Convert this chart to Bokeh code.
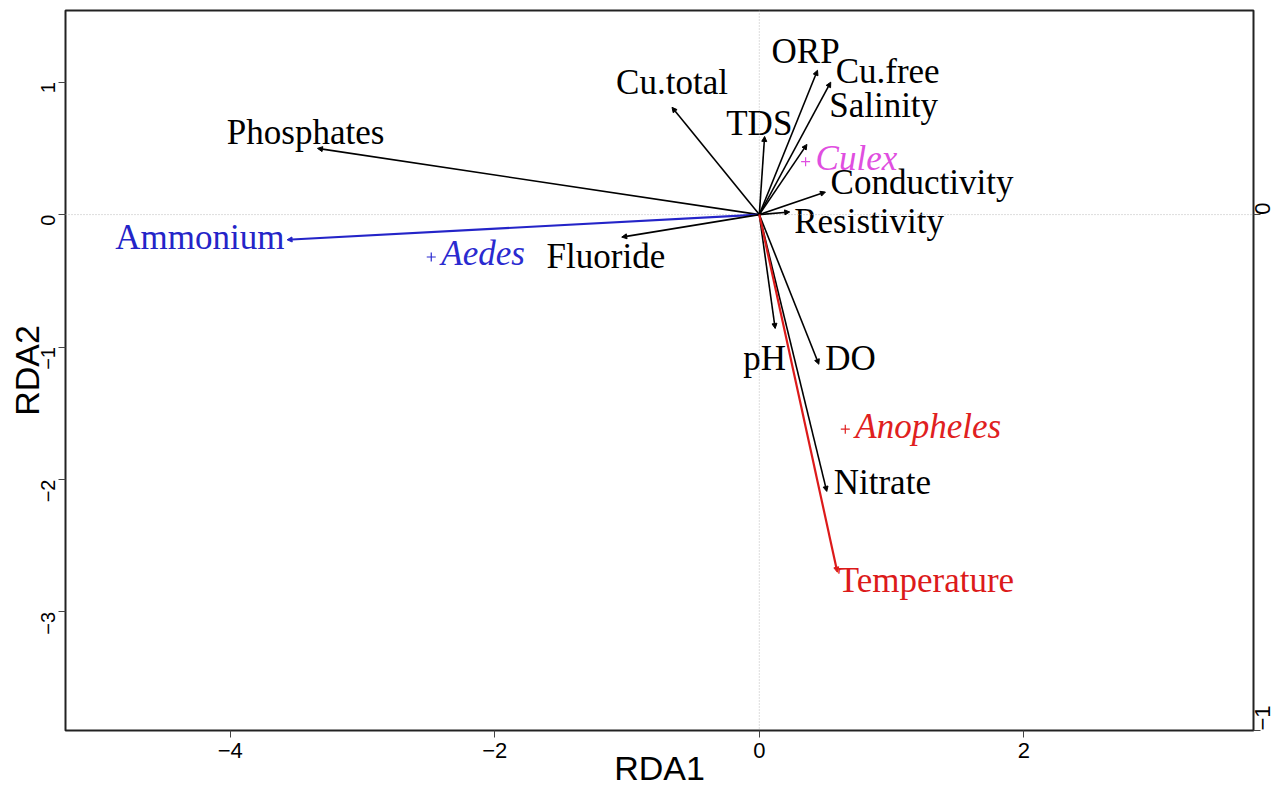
import math
from bokeh.plotting import figure
from bokeh.models import (ColumnDataSource, Arrow, NormalHead, Span, LinearAxis,
                          Range1d, FixedTicker)
from bokeh.core.properties import value
from bokeh.embed import file_html
from bokeh.resources import INLINE

# ---- data ----
env_names = ["Phosphates", "Ammonium", "Fluoride", "Cu.total", "TDS", "ORP", "Cu.free",
             "Salinity", "Conductivity", "Resistivity", "pH", "DO", "Nitrate", "Temperature"]
env_x = [-3.34, -3.57, -1.04, -0.66, 0.04, 0.44, 0.54, 0.36, 0.50, 0.23, 0.12, 0.45, 0.51, 0.59]
env_y = [0.50, -0.19, -0.17, 0.81, 0.59, 1.09, 1.00, 0.53, 0.17, 0.02, -0.86, -1.13, -2.09, -2.70]
lab_x = [-3.43, -4.23, -1.16, -0.66, 0.00, 0.35, 0.97, 0.94, 1.23, 0.83, 0.04, 0.69, 0.93, 1.26]
lab_y = [0.62, -0.17, -0.32, 1.00, 0.69, 1.23, 1.08, 0.82, 0.24, -0.05, -1.09, -1.09, -2.02, -2.76]
env_colors = ["black", "#2424c8", "black", "black", "black", "black", "black",
              "black", "black", "black", "black", "black", "black", "#dc1a1a"]

sp_names = ["Aedes", "Culex", "Anopheles"]
sp_x = [-2.48, 0.35, 0.65]
sp_y = [-0.32, 0.40, -1.62]
sp_colors = ["#2a2ad0", "#e04ee0", "#e02020"]

x_ticks = [-4, -2, 0, 2]
y_ticks = [1, 0, -1, -2, -3]
y2_ticks = [-1, 0]
x_title = "RDA1"
y_title = "RDA2"

p = figure(width=1280, height=789, output_backend="svg", toolbar_location=None,
           x_range=Range1d(-5.245, 3.736), y_range=Range1d(-3.895, 1.541),
           min_border_left=65, min_border_right=25, min_border_top=10, min_border_bottom=56)
p.grid.visible = False
p.outline_line_color = "#222222"
p.outline_line_width = 2
p.background_fill_color = "white"

p.extra_y_ranges = {"sp": Range1d(-1.0, 0.396)}
ax_r = LinearAxis(y_range_name="sp", ticker=FixedTicker(ticks=y2_ticks))
p.add_layout(ax_r, "right")

for ax in [p.xaxis[0], p.yaxis[0], ax_r]:
    ax.major_tick_out = 7
    ax.major_tick_in = 0
    ax.minor_tick_out = 0
    ax.minor_tick_in = 0
    ax.major_label_text_font = "Liberation Sans"
    ax.major_label_text_font_size = "22px"
    ax.major_label_text_color = "black"
    ax.major_label_standoff = 5
    ax.axis_line_color = None
    ax.major_tick_line_color = "#444444"

p.xaxis[0].ticker = FixedTicker(ticks=x_ticks)
p.yaxis[0].ticker = FixedTicker(ticks=y_ticks)
p.yaxis[0].major_label_orientation = math.pi / 2
p.yaxis[0].major_label_standoff = 10
p.yaxis[0].major_label_text_font_size = "20px"
ax_r.major_label_orientation = math.pi / 2
ax_r.major_label_standoff = 2

p.xaxis[0].axis_label = x_title
p.yaxis[0].axis_label = y_title
for ax in [p.xaxis[0], p.yaxis[0]]:
    ax.axis_label_text_font = "Liberation Sans"
    ax.axis_label_text_font_size = "34px"
    ax.axis_label_text_font_style = "normal"
    ax.axis_label_text_color = "black"
p.xaxis[0].axis_label_standoff = -12
p.yaxis[0].axis_label_standoff = -14

p.add_layout(Span(location=0, dimension="width", line_color="#bbbbbb", line_dash="1 2", line_width=1))
p.add_layout(Span(location=0, dimension="height", line_color="#bbbbbb", line_dash="1 2", line_width=1))

# arrows
for i in range(len(env_names)):
    src = ColumnDataSource(dict(x0=[0], y0=[0], x1=[env_x[i]], y1=[env_y[i]]))
    lw = 1.6 if env_colors[i] == "black" else 2.2
    p.add_layout(Arrow(source=src, x_start="x0", y_start="y0", x_end="x1", y_end="y1",
                       line_color=env_colors[i], line_width=lw,
                       end=NormalHead(size=5, fill_color=env_colors[i], line_color=env_colors[i])))

lsrc = ColumnDataSource(dict(x=lab_x, y=lab_y, t=env_names, c=env_colors))
p.text(x="x", y="y", text="t", text_color="c", source=lsrc, text_align="center",
       text_baseline="middle", text_font=value("Liberation Serif"), text_font_size="35px")

ssrc = ColumnDataSource(dict(x=sp_x, y=sp_y, t=sp_names, c=sp_colors))
p.scatter(x="x", y="y", marker="cross", size=9, line_color="c", line_width=1.2, source=ssrc)
p.text(x="x", y="y", text="t", text_color="c", source=ssrc, text_align="left",
       text_baseline="middle", x_offset=10, y_offset=-3, text_font=value("Liberation Serif"),
       text_font_style="italic", text_font_size="35px")

open("out.html", "w").write(file_html(p, INLINE))
